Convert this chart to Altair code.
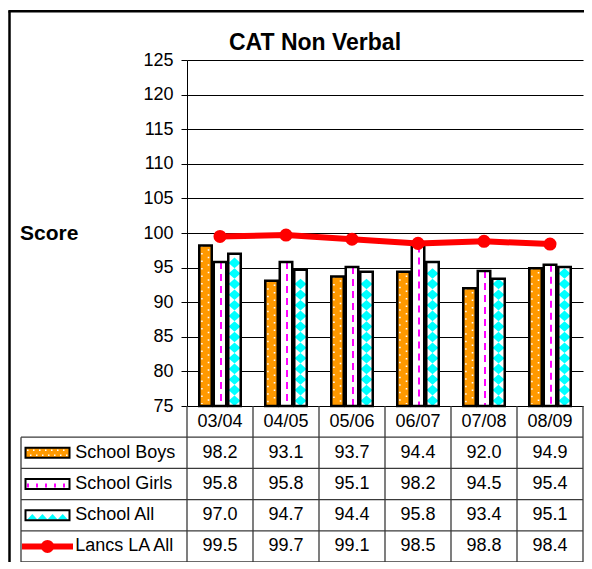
import altair as alt
import pandas as pd

# ---------------- data ----------------
years = ["03/04", "04/05", "05/06", "06/07", "07/08", "08/09"]
series_names = ["School Boys", "School Girls", "School All", "Lancs LA All"]
boys = [98.2, 93.1, 93.7, 94.4, 92.0, 94.9]
girls = [95.8, 95.8, 95.1, 98.2, 94.5, 95.4]
school_all = [97.0, 94.7, 94.4, 95.8, 93.4, 95.1]
lancs = [99.5, 99.7, 99.1, 98.5, 98.8, 98.4]
y_ticks = [75, 80, 85, 90, 95, 100, 105, 110, 115, 120, 125]
title_text = "CAT Non Verbal"
y_title = "Score"

rows = []
for name, vals in zip(series_names, [boys, girls, school_all, lancs]):
    for yr, v in zip(years, vals):
        rows.append({"year": yr, "series": name, "value": v})
df = pd.DataFrame(rows)
hdr = pd.DataFrame({"year": years, "row": ["header"] * len(years)})
keys = pd.DataFrame({"row": series_names})
one = pd.DataFrame({"t": [title_text], "s": [y_title]})

# ---------------- styling ----------------
FONT = "Liberation Sans"
W, H_PLOT, H_TOTAL = 396, 346, 502
LEFT_COL = -166
TBL = "#3a3a3a"
ORANGE = "#FF9900"
CYAN = "#00FFFF"
MAGENTA = "#FF00FF"
RED = "#FF0000"
BAR_W = 12.5
OFF = {"School Boys": -14.5, "School Girls": 0.0, "School All": 14.5}
DIAMOND = "M0,-0.88L1,0L0,0.88L-1,0Z"
KEY_RECT = "M-1,-0.227L1,-0.227L1,0.227L-1,0.227Z"
KEY_TRI = ("M-0.92,0.2L-0.69,-0.06L-0.46,0.2L-0.23,-0.06L0,0.2L0.23,-0.06"
           "L0.46,0.2L0.69,-0.06L0.92,0.2Z")
KEY_SIZE = 1936
KEY_X = -139.5

xs = alt.Scale(type="band", domain=years, paddingInner=0, paddingOuter=0)
ys = alt.Scale(type="linear", domain=[75, 125], range=[H_PLOT, 0], zero=False, nice=False)
ts = alt.Scale(type="band", domain=["header"] + series_names, range=[H_PLOT, H_TOTAL],
               paddingInner=0, paddingOuter=0)

yaxis = alt.Axis(values=y_ticks, title=None, grid=True, gridColor="black", gridWidth=1,
                 domainColor="black", domainWidth=1, tickColor="black", tickSize=6,
                 labelFont=FONT, labelFontSize=18, labelColor="black", labelPadding=8)


def X(bp=None):
    if bp is None:
        return alt.X("year:N", scale=xs, axis=None)
    return alt.X("year:N", scale=xs, axis=None, bandPosition=bp)


def Yv(field="value:Q"):
    return alt.Y(field, scale=ys, axis=yaxis)


def T(field="row:N", bp=0.5):
    return alt.Y(field, scale=ts, axis=None, bandPosition=bp)


base = alt.Chart(df)
main_layers = []
for s, fill in [("School Boys", ORANGE), ("School Girls", "white"), ("School All", "white")]:
    b = base.transform_filter(alt.datum.series == s)
    off = OFF[s]
    main_layers.append(
        b.mark_bar(width=BAR_W, xOffset=off, fill=fill, strokeWidth=0)
        .encode(x=X(), y=Yv(), y2=alt.datum(75))
    )
    if s == "School Boys":
        for dx, doff in [(-3.6, 0), (3.0, 3.75)]:
            main_layers.append(
                b.mark_rule(color="white", strokeWidth=1.6, strokeDash=[1.5, 6],
                            strokeDashOffset=doff, xOffset=off + dx)
                .encode(x=X(0.5), y=Yv(), y2=alt.datum(75.3))
            )
    elif s == "School Girls":
        main_layers.append(
            b.mark_rule(color=MAGENTA, strokeWidth=2, strokeDash=[7, 5], xOffset=off + 1)
            .encode(x=X(0.5), y=Yv(), y2=alt.datum(75))
        )
    else:
        main_layers.append(
            b.transform_calculate(k="sequence(0, 40)")
            .transform_flatten(["k"])
            .transform_calculate(yd="75.766 + datum.k * 1.532")
            .transform_filter("datum.yd + 0.6 <= datum.value")
            .mark_point(shape=DIAMOND, size=144, filled=True, fill=CYAN, strokeWidth=0,
                        opacity=1, xOffset=off)
            .encode(x=X(0.5), y=Yv("yd:Q"))
        )
    main_layers.append(
        b.mark_bar(width=BAR_W, xOffset=off, fillOpacity=0, stroke="black", strokeWidth=2.5)
        .encode(x=X(), y=Yv(), y2=alt.datum(75))
    )

lb = base.transform_filter(alt.datum.series == "Lancs LA All")
main_layers.append(lb.mark_line(color=RED, strokeWidth=6).encode(x=X(0.5), y=Yv()))
main_layers.append(lb.mark_circle(color=RED, size=170, opacity=1).encode(x=X(0.5), y=Yv()))

main = alt.layer(*main_layers)

# ---------------- table ----------------
tl = []
# horizontal table lines
tl.append(alt.Chart(keys).mark_rule(color=TBL, strokeWidth=1.3)
          .encode(y=T(bp=0), x=alt.value(LEFT_COL), x2=alt.value(W)))
tl.append(alt.Chart(keys).transform_filter(alt.datum.row == "Lancs LA All")
          .mark_rule(color=TBL, strokeWidth=1.3)
          .encode(y=T(bp=1), x=alt.value(LEFT_COL), x2=alt.value(W)))
# vertical table lines
tl.append(alt.Chart(hdr).mark_rule(color=TBL, strokeWidth=1.3)
          .encode(x=X(0), y=alt.value(H_PLOT), y2=alt.value(H_TOTAL)))
tl.append(alt.Chart(hdr).transform_filter(alt.datum.year == years[-1])
          .mark_rule(color=TBL, strokeWidth=1.3)
          .encode(x=X(1), y=alt.value(H_PLOT), y2=alt.value(H_TOTAL)))
tl.append(alt.Chart(keys).transform_filter(alt.datum.row == "School Boys")
          .mark_rule(color=TBL, strokeWidth=1.3)
          .encode(x=alt.value(LEFT_COL), y=T(bp=0), y2=alt.value(H_TOTAL)))

# header & values
tl.append(alt.Chart(hdr).mark_text(font=FONT, fontSize=18, color="black", baseline="middle")
          .encode(x=X(0.5), y=T("row:N"), text="year:N"))
tl.append(alt.Chart(df).mark_text(font=FONT, fontSize=18, color="black", baseline="middle")
          .encode(x=X(0.5), y=T("series:N"), text=alt.Text("value:Q", format=".1f")))
# legend labels
tl.append(alt.Chart(keys).mark_text(font=FONT, fontSize=18, color="black", align="left",
                                    baseline="middle")
          .encode(x=alt.value(-111.7), y=T(), text="row:N"))


def key(name):
    return alt.Chart(keys).transform_filter(alt.datum.row == name)


for name, fill in [("School Boys", ORANGE), ("School Girls", "white"), ("School All", "white")]:
    tl.append(key(name).mark_point(shape=KEY_RECT, size=KEY_SIZE, filled=True, fill=fill,
                                   strokeWidth=0, opacity=1)
              .encode(x=alt.value(KEY_X), y=T()))
    if name == "School Boys":
        for dy, doff in [(-2.5, 0), (2.5, 3)]:
            tl.append(key(name).mark_rule(color="white", strokeWidth=1.5, strokeDash=[1.5, 4.5],
                                          strokeDashOffset=doff, yOffset=dy)
                      .encode(x=alt.value(-160), x2=alt.value(-119), y=T()))
    elif name == "School Girls":
        tl.append(key(name).mark_rule(color=MAGENTA, strokeWidth=4, strokeDash=[2, 7],
                                      yOffset=1.5)
                  .encode(x=alt.value(-160), x2=alt.value(-119), y=T()))
    else:
        tl.append(key(name).mark_point(shape=KEY_TRI, size=KEY_SIZE, filled=True, fill=CYAN,
                                       strokeWidth=0, opacity=1)
                  .encode(x=alt.value(KEY_X), y=T()))
    tl.append(key(name).mark_point(shape=KEY_RECT, size=KEY_SIZE, filled=False, color="black",
                                   strokeWidth=2, opacity=1)
              .encode(x=alt.value(KEY_X), y=T()))

tl.append(key("Lancs LA All").mark_rule(color=RED, strokeWidth=6)
          .encode(x=alt.value(-165), x2=alt.value(-114), y=T()))
tl.append(key("Lancs LA All").mark_circle(color=RED, size=170, opacity=1)
          .encode(x=alt.value(KEY_X), y=T()))

# title, y label and frame
tl.append(alt.Chart(one).mark_text(font=FONT, fontSize=23, fontWeight="bold", color="black",
                                   align="center", baseline="alphabetic")
          .encode(x=alt.value(128), y=alt.value(-10.3), text="t:N"))
tl.append(alt.Chart(one).mark_text(font=FONT, fontSize=21, fontWeight="bold", color="black",
                                   align="left", baseline="middle")
          .encode(x=alt.value(-167), y=alt.value(174), text="s:N"))
tl.append(alt.Chart(one).mark_rule(color="black", strokeWidth=2.5)
          .encode(x=alt.value(-177.5), y=alt.value(-48.7), y2=alt.value(530)))
tl.append(alt.Chart(one).mark_rule(color="black", strokeWidth=2.5)
          .encode(x=alt.value(-178.7), x2=alt.value(430), y=alt.value(-48.7)))

table = alt.layer(*tl)

chart = (
    alt.layer(main, table)
    .resolve_scale(y="independent")
    .properties(width=W, height=H_TOTAL,
                padding={"left": 179, "top": 52, "right": 1, "bottom": 0},
                autosize=alt.AutoSizeParams(type="none"))
    .configure_view(strokeWidth=0)
)

chart.save("out.html", embed_options={"renderer": "svg", "actions": False})
